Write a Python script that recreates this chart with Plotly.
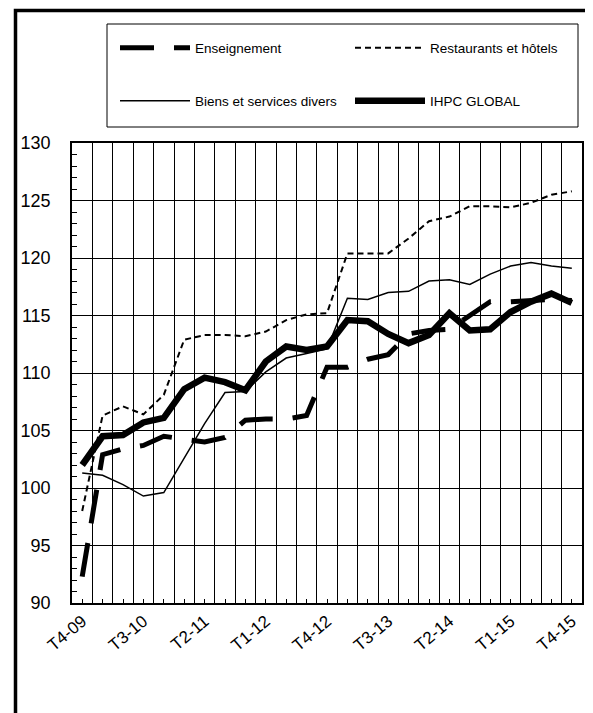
import plotly.graph_objects as go

quarters = ["T4-09", "T1-10", "T2-10", "T3-10", "T4-10", "T1-11", "T2-11", "T3-11",
            "T4-11", "T1-12", "T2-12", "T3-12", "T4-12", "T1-13", "T2-13", "T3-13",
            "T4-13", "T1-14", "T2-14", "T3-14", "T4-14", "T1-15", "T2-15", "T3-15", "T4-15"]
shown_labels = ["T4-09", "T3-10", "T2-11", "T1-12", "T4-12", "T3-13", "T2-14", "T1-15", "T4-15"]

enseignement = [92.3, 102.9, 103.4, 103.7, 104.5, 104.2, 104.0, 104.4, 105.9, 106.0,
                106.0, 106.3, 110.5, 110.5, 111.2, 111.6, 113.4, 113.7, 113.8, 115.0,
                116.2, 116.2, 116.3, 116.4, 116.3]
restaurants = [98.0, 106.3, 107.1, 106.4, 108.1, 112.9, 113.3, 113.3, 113.2, 113.6,
               114.6, 115.1, 115.2, 120.4, 120.4, 120.4, 121.7, 123.2, 123.6, 124.5,
               124.5, 124.4, 124.8, 125.5, 125.8]
biens = [101.3, 101.1, 100.3, 99.3, 99.6, 102.6, 105.6, 108.3, 108.4, 110.1,
         111.3, 111.7, 112.1, 116.5, 116.4, 117.0, 117.1, 118.0, 118.1, 117.7,
         118.6, 119.3, 119.6, 119.3, 119.1]
ihpc = [102.0, 104.5, 104.6, 105.7, 106.1, 108.6, 109.6, 109.2, 108.5, 111.0,
        112.3, 112.0, 112.3, 114.6, 114.5, 113.4, 112.6, 113.3, 115.2, 113.7,
        113.8, 115.3, 116.2, 116.9, 116.1]

# the page places the figure 8px from the top-left corner of the window
OFF = 8
W, H = 593 - OFF, 713 - OFF
# plot area on screen: x 72..582, y 143..603
ML, MT = 72 - OFF, 143 - OFF
MR, MB = W - (582 - OFF), H - (603 - OFF)
PW, PH = W - ML - MR, H - MT - MB

def px_x(sx):  # screen x -> paper
    return (sx - OFF - ML) / PW

def px_y(sy):  # screen y -> paper
    return (H - MB - (sy - OFF)) / PH

def cx(sx):  # screen x -> container
    return (sx - OFF) / W

def cy(sy):
    return 1 - (sy - OFF) / H

fig = go.Figure()
fig.add_trace(go.Scatter(x=quarters, y=enseignement, mode="lines", name="Enseignement",
                         line=dict(color="black", width=5, dash="34px,20px"), legend="legend"))
fig.add_trace(go.Scatter(x=quarters, y=restaurants, mode="lines", name="Restaurants et hôtels",
                         line=dict(color="black", width=2, dash="6px,4px"), legend="legend2"))
fig.add_trace(go.Scatter(x=quarters, y=biens, mode="lines", name="Biens et services divers",
                         line=dict(color="black", width=1.5), legend="legend3"))
fig.add_trace(go.Scatter(x=quarters, y=ihpc, mode="lines", name="IHPC GLOBAL",
                         line=dict(color="black", width=6.5), legend="legend4"))
# helper trace for the centre tick marks on the bottom axis
fig.add_trace(go.Scatter(x=quarters, y=ihpc, mode="lines", xaxis="x2", showlegend=False,
                         hoverinfo="skip", line=dict(color="rgba(0,0,0,0)", width=0)))

ticktext = [q if q in shown_labels else "" for q in quarters]

def leg(sx, sy):
    return dict(xref="container", yref="container", x=cx(sx), xanchor="left",
                y=cy(sy), yanchor="middle", font=dict(size=13.5), itemwidth=70,
                bgcolor="rgba(0,0,0,0)", borderwidth=0)

fig.update_layout(
    width=W, height=H,
    margin=dict(l=ML, r=MR, t=MT, b=MB, autoexpand=False),
    paper_bgcolor="white", plot_bgcolor="white",
    font=dict(family="Liberation Sans, Arial, sans-serif", color="black"),
    xaxis=dict(type="category", categoryorder="array", categoryarray=quarters,
               range=[-0.5, len(quarters) - 0.5], automargin=False,
               tickmode="array", tickvals=quarters, ticktext=ticktext,
               tickson="boundaries", ticks="", tickangle=-40,
               tickfont=dict(size=17), showgrid=True, gridcolor="black", gridwidth=1,
               showline=True, linecolor="black", linewidth=1.5, mirror=True,
               zeroline=False),
    xaxis2=dict(type="category", categoryorder="array", categoryarray=quarters,
                range=[-0.5, len(quarters) - 0.5], overlaying="x", anchor="y", side="bottom",
                tickmode="array", tickvals=quarters, ticks="inside", ticklen=4,
                tickcolor="black", showticklabels=False, showgrid=False, showline=False,
                zeroline=False, automargin=False),
    yaxis=dict(range=[90, 130], dtick=5, tick0=90, ticks="inside", ticklen=5,
               tickcolor="black", tickfont=dict(size=18), ticklabelstandoff=16,
               showgrid=True, gridcolor="black", gridwidth=1, automargin=False,
               showline=True, linecolor="black", linewidth=1.5, mirror=True,
               zeroline=False,
               minor=dict(dtick=1, ticks="inside", ticklen=5, tickcolor="black",
                          showgrid=False)),
    legend=leg(115, 48),
    legend2=leg(350, 48),
    legend3=leg(115, 101),
    legend4=leg(350, 101),
    shapes=[
        dict(type="rect", xref="paper", yref="paper",
             x0=px_x(107), x1=px_x(578), y0=px_y(127), y1=px_y(24),
             line=dict(color="black", width=1), layer="above"),
        dict(type="rect", xref="paper", yref="paper",
             x0=px_x(15.5), x1=px_x(589.5), y0=px_y(718), y1=px_y(10.5),
             line=dict(color="black", width=3.5), layer="above"),
    ],
    showlegend=True,
)

fig.write_html("out.html")
